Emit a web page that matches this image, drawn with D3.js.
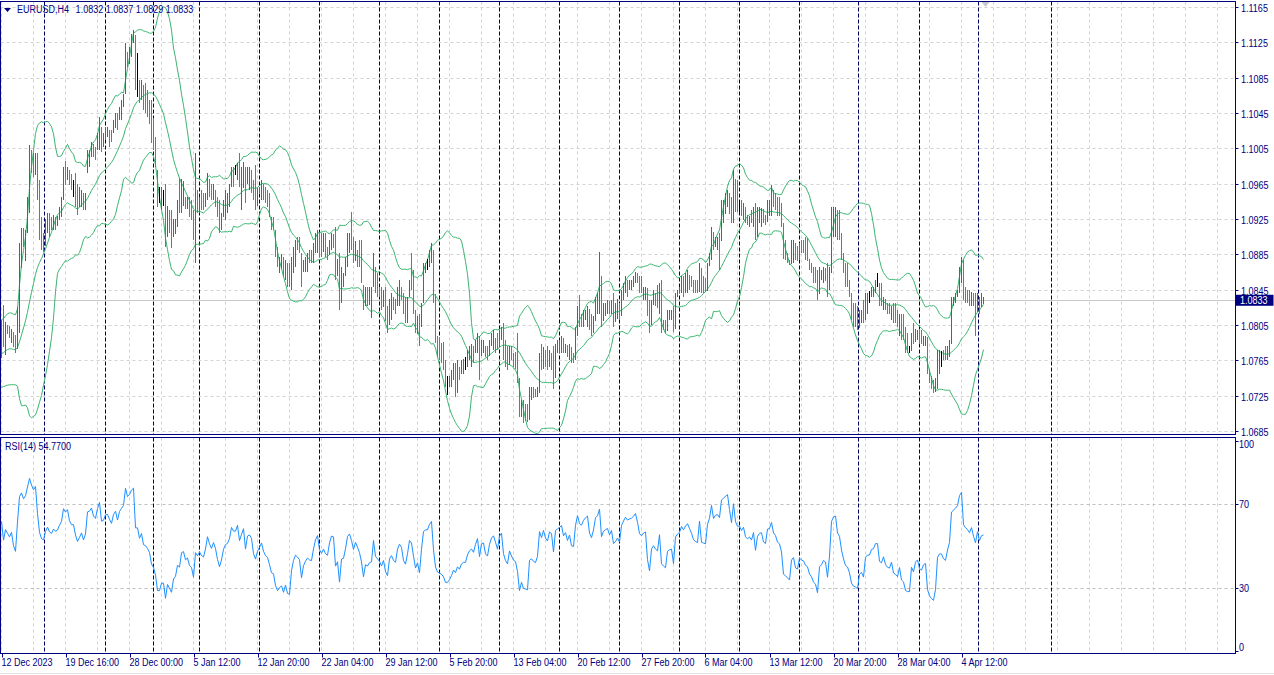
<!DOCTYPE html>
<html><head><meta charset="utf-8">
<script src="https://cdn.jsdelivr.net/npm/d3@7"></script>
<style>
body{margin:0;background:#fff;}
svg{display:block;}
</style>
</head><body>
<svg id="chart" width="1274" height="675"></svg>
<script>
// ---------------- DATA (prices in pips above 1.0000, e.g. 833 = 1.0833) ----------------
const symbolName = "EURUSD,H4";
const rsiLabelValue = 54.77;            // value printed in the RSI panel caption
const rsiPeriod = 14, bandPeriod = 20, bandDeviation = 2;

// closes before the first visible bar (estimated from the band / RSI levels at the left edge)
const priorCloses = [770,760,765,775,800,795,785,770,760,748,740,745,752,760,770,778,785,795,800];

const highs = [811,828,808,805,804,800,797,794,825,898,
915,915,912,950,1009,1003,1000,1000,1000,969,
927,909,925,932,932,927,930,927,928,939,
950,984,991,984,980,976,969,977,965,961,
958,954,954,1003,1003,1012,1010,1007,1022,1041,
1029,1022,1029,1029,1026,1026,1037,1045,1045,1052,
1060,1067,1124,1114,1120,1135,1139,1133,1113,1082,
1082,1077,1079,1071,1060,1060,1039,1018,980,961,
961,958,965,940,935,935,925,925,947,971,
970,968,950,950,950,947,935,1000,958,950,
958,954,954,977,970,965,965,958,950,947,
932,947,958,954,965,984,984,986,988,1000,
984,990,984,984,984,980,969,986,960,961,
969,965,961,958,954,927,927,913,893,882,
885,882,879,875,875,882,893,901,905,905,
886,879,882,886,890,890,898,909,913,909,
909,909,909,893,901,909,908,916,880,886,
871,864,882,909,909,933,905,900,890,901,
901,850,848,848,848,848,886,871,864,848,
848,845,848,826,835,841,837,835,848,856,
848,841,837,837,856,886,867,822,815,818,
830,875,875,880,890,898,890,840,792,790,
785,786,765,747,747,754,762,762,765,758,
765,766,769,777,781,784,781,788,796,792,
788,788,781,781,788,796,799,790,796,799,
803,807,788,781,781,781,773,775,796,745,
720,720,716,716,735,735,735,732,735,773,
784,780,777,781,777,773,781,784,788,788,
792,790,784,782,784,780,773,803,826,839,
818,822,822,826,823,818,815,837,841,888,
860,830,830,833,832,833,841,830,835,830,
845,852,860,856,856,856,860,865,864,860,
860,848,848,847,833,833,845,841,850,852,
856,811,811,822,822,822,826,841,845,848,
860,860,864,867,862,860,856,856,856,875,
870,860,858,875,886,916,910,905,905,909,
947,947,954,958,955,950,980,970,969,947,
947,943,939,930,928,935,939,943,939,939,
938,936,930,947,947,963,958,954,950,950,
943,920,901,886,879,901,901,898,894,898,
901,901,905,903,880,875,871,871,867,871,
867,871,870,875,871,939,939,939,935,935,
909,886,875,875,856,841,830,830,826,822,
822,833,841,841,843,848,848,856,864,852,
852,837,834,830,830,826,830,830,822,818,
818,818,803,796,781,796,807,800,799,799,
799,792,792,791,755,747,743,745,777,777,
776,777,781,781,788,837,837,841,845,871,
882,879,848,845,845,842,841,841,841,837,
841,837];

const lows = [768,780,771,795,790,785,780,773,778,796,
870,893,878,909,932,977,973,975,947,901,
890,888,895,909,905,912,912,912,917,924,
927,947,964,969,963,958,950,939,930,939,
939,935,935,977,984,995,995,992,1003,1003,
1001,1007,1014,1018,1007,1012,1022,1028,1026,1037,
1037,1052,1067,1097,1100,1108,1124,1071,1063,1056,
1060,1048,1045,1041,1033,1011,1003,984,939,943,
935,940,893,905,909,892,905,908,916,932,
932,940,936,936,927,924,901,875,932,932,
935,935,939,947,950,947,947,939,927,909,
912,927,924,932,939,961,961,975,969,961,
935,960,943,965,958,955,947,935,940,954,
947,947,943,939,927,912,912,882,871,864,
868,859,856,848,848,845,864,871,890,886,
848,865,865,865,875,875,875,886,886,882,
882,888,882,879,884,890,892,856,860,822,
830,848,860,871,886,890,875,878,871,871,
852,822,826,826,828,813,848,841,837,837,
822,825,810,796,805,811,822,818,826,826,
833,818,807,807,837,845,818,796,795,781,
803,830,864,867,871,875,830,785,769,765,
762,754,735,726,735,735,743,724,728,743,
750,750,754,758,765,758,762,773,773,743,
770,773,769,765,770,781,777,773,777,780,
788,765,758,754,760,765,758,755,739,701,
701,694,696,695,697,720,722,724,724,728,
754,755,758,754,758,754,732,745,773,773,
773,773,773,769,765,762,762,765,792,803,
803,803,811,803,799,792,796,810,818,818,
803,810,815,818,818,818,803,808,812,811,
815,833,841,837,845,845,848,852,852,841,
841,833,833,815,796,805,828,826,824,818,
796,799,796,798,811,811,797,800,837,841,
841,837,841,841,845,848,841,841,841,842,
841,841,842,844,872,879,890,893,890,867,
900,920,931,939,931,920,920,933,933,933,
928,924,920,918,916,920,916,901,905,920,
916,920,918,922,928,928,939,935,928,928,
916,880,879,875,873,874,875,879,878,879,
886,886,879,878,867,864,852,852,833,840,
856,852,855,837,845,864,905,905,901,901,
879,864,848,848,837,811,803,803,799,802,
807,807,811,818,830,837,837,841,848,826,
826,822,822,818,818,811,807,807,803,792,
788,788,773,773,773,776,784,786,788,784,
784,781,781,750,739,732,728,729,732,750,
758,765,765,765,769,784,826,830,837,841,
852,833,830,830,826,826,826,792,820,818,
825,829];

const closes = [805,785,800,796,792,798,783,776,820,890,
905,897,908,945,995,985,978,995,950,910,
895,892,915,928,918,915,926,922,925,936,
945,980,975,982,966,960,960,945,935,942,
950,940,950,998,1000,1008,998,995,1018,1035,
1010,1012,1025,1026,1020,1015,1033,1040,1030,1048,
1055,1062,1115,1105,1112,1128,1135,1080,1080,1062,
1072,1052,1050,1045,1038,1015,1008,990,945,945,
955,955,905,925,912,898,918,922,940,935,
960,962,945,948,932,928,905,945,938,945,
938,935,948,970,958,950,960,950,930,915,
925,942,950,952,960,980,975,975,985,965,
975,985,955,978,980,975,950,940,952,958,
965,952,945,942,930,915,913,888,875,878,
880,865,872,852,850,875,888,895,892,888,
855,870,876,880,877,876,890,902,908,890,
885,890,884,882,896,905,904,865,870,830,
862,863,878,900,905,895,880,892,884,875,
858,825,843,840,845,846,880,850,845,840,
830,838,815,805,830,835,826,822,842,850,
845,822,815,830,852,848,825,800,808,785,
826,868,872,872,886,893,838,790,773,770,
766,758,740,740,744,750,758,752,760,755,
762,764,764,773,778,780,776,785,792,770,
786,787,773,770,784,792,795,788,780,796,
800,775,765,760,775,768,762,760,745,706,
715,700,699,697,730,732,728,726,733,768,
760,772,762,758,772,770,745,780,784,786,
790,777,782,772,780,766,765,798,818,808,
806,815,820,823,804,798,810,832,836,850,
815,825,828,830,822,829,812,815,820,815,
840,848,855,852,854,855,858,862,855,845,
843,846,847,820,805,828,832,828,826,845,
805,801,798,818,820,821,800,838,843,846,
856,852,858,862,857,852,845,843,842,870,
846,845,844,872,883,910,895,902,903,900,
940,945,950,955,940,925,970,945,938,938,
932,938,925,922,925,921,932,908,930,935,
936,924,922,944,945,955,943,940,932,930,
920,885,882,878,874,895,898,882,880,892,
889,888,882,880,870,866,858,855,840,862,
864,868,866,845,866,920,930,932,910,905,
884,868,855,852,840,816,808,806,802,818,
820,811,835,838,838,845,846,852,852,830,
828,834,824,820,819,824,810,808,805,812,
795,792,778,776,776,794,788,796,798,788,
786,790,791,755,742,736,732,740,770,774,
774,768,766,776,784,830,834,838,843,866,
875,840,836,834,830,838,828,820,836,825,
832,833];

const timeLabels = ["12 Dec 2023","19 Dec 16:00","28 Dec 00:00","5 Jan 12:00","12 Jan 20:00",
  "22 Jan 04:00","29 Jan 12:00","5 Feb 20:00","13 Feb 04:00","20 Feb 12:00","27 Feb 20:00",
  "6 Mar 04:00","13 Mar 12:00","20 Mar 20:00","28 Mar 04:00","4 Apr 12:00"];
const labelBars = [0,32,64,96,128,160,192,224,256,288,320,352,384,416,448,480];
const weekStartBars = [22,52,76,99,129,159,189,219,249,279,309,339,369,399,429,459,489,525];
const priceTicks = [1.0685,1.0725,1.0765,1.0805,1.0845,1.0885,1.0925,1.0965,1.1005,1.1045,1.1085,1.1125,1.1165];
const rsiTicks = [0,30,70,100];
const rsiLevels = [30,70];

// ---------------- DRAWING ----------------
const FONT = "'Liberation Sans',Arial,sans-serif";
const FS = 11, SX = 0.82;               // narrow (Tahoma-like) text via horizontal scale
const NAVY = "#000080";
const toPrice = v => 1 + v / 10000;
const svg = d3.select("#chart");
const W = 1274, H = 675;
const left = 0.5, right = 1235.5, mainTop = 1.5, mainBottom = 434.5, rsiTop = 437.5, rsiBottom = 653.5;

const x = d3.scaleLinear().domain([0, 616]).range([1.5, 1233.5]);
const y = d3.scaleLinear().domain([1.0685, 1.1165]).range([431, 7]);
const yR = d3.scaleLinear().domain([0, 100]).range([651, 441]);

function label(g, tx, ty, str, fill) {
  return g.append("text")
    .attr("transform", `translate(${tx},${ty}) scale(${SX},1)`)
    .attr("font-family", FONT).attr("font-size", FS)
    .attr("fill", fill || NAVY).text(str);
}

svg.append("rect").attr("width", W).attr("height", H).attr("fill", "#fff");

const defs = svg.append("defs");
defs.append("clipPath").attr("id", "clipMain").append("rect")
  .attr("x", 1).attr("y", 2).attr("width", right - 1).attr("height", mainBottom - 2);
defs.append("clipPath").attr("id", "clipRsi").append("rect")
  .attr("x", 1).attr("y", rsiTop + 0.5).attr("width", right - 1).attr("height", rsiBottom - rsiTop - 1);

// grid
const grid = svg.append("g").attr("stroke", "#d3d3d3").attr("stroke-dasharray", "3,3").attr("stroke-width", 1);
d3.range(0, 617, 16).forEach(i => {
  const gx = x(i);
  grid.append("line").attr("x1", gx).attr("x2", gx).attr("y1", mainTop).attr("y2", mainBottom);
  grid.append("line").attr("x1", gx).attr("x2", gx).attr("y1", rsiTop).attr("y2", rsiBottom);
});
priceTicks.forEach(p => {
  const gy = Math.round(y(p)) + 0.5;
  grid.append("line").attr("x1", left).attr("x2", right).attr("y1", gy).attr("y2", gy);
});
const lev = svg.append("g").attr("stroke", "#c0c0c0").attr("stroke-dasharray", "3,3");
rsiLevels.forEach(v => {
  const gy = Math.round(yR(v)) + 0.5;
  lev.append("line").attr("x1", left).attr("x2", right).attr("y1", gy).attr("y2", gy);
});

// current price line
const lastClose = toPrice(closes[closes.length - 1]);
svg.append("line").attr("x1", left).attr("x2", right)
  .attr("y1", Math.round(y(lastClose)) + 0.5).attr("y2", Math.round(y(lastClose)) + 0.5)
  .attr("stroke", "#c8c8c8");

// week separators
const sep = svg.append("g").attr("stroke", "#000060").attr("stroke-dasharray", "4,2");
weekStartBars.forEach(i => {
  const sx = Math.round(x(i)) - 0.5;
  sep.append("line").attr("x1", sx).attr("x2", sx).attr("y1", mainTop).attr("y2", mainBottom);
  sep.append("line").attr("x1", sx).attr("x2", sx).attr("y1", rsiTop).attr("y2", rsiBottom);
});

// indicators computed from closes
const allC = priorCloses.concat(closes).map(toPrice);
const off = priorCloses.length;
const bands = closes.map((_, i) => {
  const k = i + off;
  const w = allC.slice(k - bandPeriod + 1, k + 1);
  const m = d3.mean(w);
  const sd = Math.sqrt(d3.mean(w, v => (v - m) * (v - m)));
  return { i, m, u: m + bandDeviation * sd, l: m - bandDeviation * sd };
});
const rsi = [];
let ag = 0, al = 0;
for (let k = 1; k < allC.length; k++) {
  const d = allC[k] - allC[k - 1];
  const g = Math.max(d, 0), l = Math.max(-d, 0);
  if (k <= rsiPeriod) { ag += g / rsiPeriod; al += l / rsiPeriod; }
  else { ag = (ag * (rsiPeriod - 1) + g) / rsiPeriod; al = (al * (rsiPeriod - 1) + l) / rsiPeriod; }
  if (k >= rsiPeriod && k >= off) rsi.push({ i: k - off, v: al === 0 ? 100 : 100 - 100 / (1 + ag / al) });
}

const main = svg.append("g").attr("clip-path", "url(#clipMain)");
["u", "m", "l"].forEach(key => {
  main.append("path").datum(bands)
    .attr("fill", "none").attr("stroke", "#3cb371").attr("stroke-width", 1)
    .attr("d", d3.line().x(d => x(d.i)).y(d => y(d[key])));
});

// bars
const barData = closes.map((c, i) => ({
  i, h: toPrice(highs[i]), l: toPrice(lows[i]), c: toPrice(c),
  o: toPrice(i === 0 ? priorCloses[priorCloses.length - 1] : closes[i - 1])
}));
main.append("g").attr("shape-rendering", "crispEdges").selectAll("line").data(barData).join("line")
  .attr("x1", d => x(d.i)).attr("x2", d => x(d.i))
  .attr("y1", d => y(d.h)).attr("y2", d => y(d.l))
  .attr("stroke-width", 1)
  .attr("stroke", d => d.c > d.o + 1e-9 ? "#228b22" : (d.c < d.o - 1e-9 ? "#ff4500" : "#000000"));

// RSI
svg.append("g").attr("clip-path", "url(#clipRsi)").append("path").datum(rsi)
  .attr("fill", "none").attr("stroke", "#1e90ff").attr("stroke-width", 1)
  .attr("d", d3.line().x(d => x(d.i)).y(d => yR(d.v)));

// frames
const fr = svg.append("g").attr("stroke", NAVY).attr("fill", "none");
fr.append("rect").attr("x", left).attr("y", mainTop).attr("width", right - left).attr("height", mainBottom - mainTop);
fr.append("rect").attr("x", left).attr("y", rsiTop).attr("width", right - left).attr("height", rsiBottom - rsiTop);

// right price axis
const ax = svg.append("g");
priceTicks.forEach(p => {
  const ty = Math.round(y(p)) + 0.5;
  ax.append("line").attr("x1", right).attr("x2", right + 3).attr("y1", ty).attr("y2", ty).attr("stroke", NAVY);
  label(ax, 1241, ty + 4, p.toFixed(4));
});
// current price tag
const py = y(lastClose);
svg.append("rect").attr("x", 1236).attr("y", py - 5.5).attr("width", 37.5).attr("height", 11).attr("fill", NAVY);
label(svg, 1240, py + 4, lastClose.toFixed(4), "#fff");

// RSI axis
rsiTicks.forEach(v => {
  const ty = Math.max(rsiTop + 6.5, Math.min(rsiBottom - 6.5, yR(v)));
  ax.append("line").attr("x1", right).attr("x2", right + 3).attr("y1", Math.round(yR(v)) + 0.5).attr("y2", Math.round(yR(v)) + 0.5).attr("stroke", NAVY);
  label(ax, 1239, ty + 4, String(v));
});

// time axis
labelBars.forEach((b, k) => {
  const tx = Math.round(x(b)) + 0.5;
  ax.append("line").attr("x1", tx).attr("x2", tx).attr("y1", rsiBottom).attr("y2", rsiBottom + 4).attr("stroke", NAVY);
  label(ax, tx - 1, 666, timeLabels[k]);
});
svg.append("line").attr("x1", 0).attr("x2", W).attr("y1", 673.5).attr("y2", 673.5).attr("stroke", "#e3e3e3");

// captions
const last = barData[barData.length - 1];
svg.append("path").attr("d", "M4,8 L11,8 L7.5,12 Z").attr("fill", NAVY);
const cap = label(svg, 17, 13, null);
cap.append("tspan").text(symbolName);
cap.append("tspan").attr("dx", 8).text([last.o, last.h, last.l, last.c].map(v => v.toFixed(4)).join(" "));
label(svg, 5, 450, "RSI(" + rsiPeriod + ") " + rsiLabelValue.toFixed(4));

// chart shift marker
svg.append("path").attr("d", `M${x(barData.length) - 4},2 L${x(barData.length) + 4},2 L${x(barData.length)},7 Z`).attr("fill", "#c8c8c8");
</script>
</body></html>
